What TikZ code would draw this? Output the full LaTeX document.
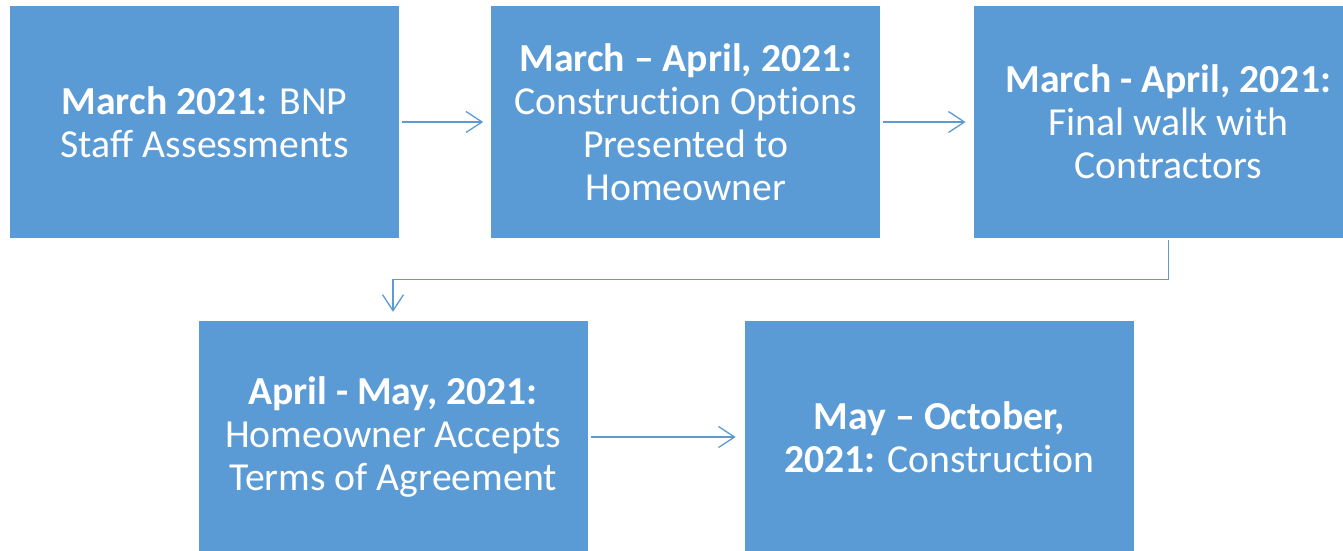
\documentclass[tikz,border=0pt]{standalone}
\usepackage{fontspec}
\setmainfont{Carlito}[Ligatures=NoCommon]
\usepackage{xcolor}
\usepackage{tikz}
\usetikzlibrary{arrows.meta, positioning}
\definecolor{stepblue}{HTML}{5B9BD5}
\tikzset{
  stage/.style={fill=stepblue,text=white,minimum width=389pt,minimum height=232pt,
    inner sep=0pt,align=center,font=\fontsize{39.7}{43}\selectfont},
  flow/.style={draw=stepblue,line width=1.3pt,
    -{Straight Barb[length=16pt,width=21pt,line width=1.3pt]}}
}
\begin{document}
\begin{tikzpicture}[x=1pt,y=1pt]
\clip (0,0) rectangle (1343,-551);
\node[stage] (assess) at (204.5,-122) {\textbf{March 2021:} BNP\\Staff Assessments};
\node[stage,right=92pt of assess] (options) {\textbf{March -- April, 2021:}\\Construction Options\\Presented to\\Homeowner};
\node[stage,right=93pt of options] (walk) {\textbf{March - April, 2021:}\\Final walk with\\Contractors};
\node[stage] (terms) at (393,-437) {\textbf{April - May, 2021:}\\Homeowner Accepts\\Terms of Agreement};
\node[stage,right=157pt of terms] (build) {\textbf{May -- October,}\\\textbf{2021:} Construction};
\draw[flow,shorten <=3pt,shorten >=8pt] (assess) -- (options);
\draw[flow,shorten <=2pt,shorten >=8pt] (options) -- (walk);
\draw[flow,shorten <=2pt,shorten >=9pt] (walk.south) -- ++(0,-41) -| (terms.north);
\draw[flow,shorten <=3pt,shorten >=9pt] (terms) -- (build);
\end{tikzpicture}
\end{document}
